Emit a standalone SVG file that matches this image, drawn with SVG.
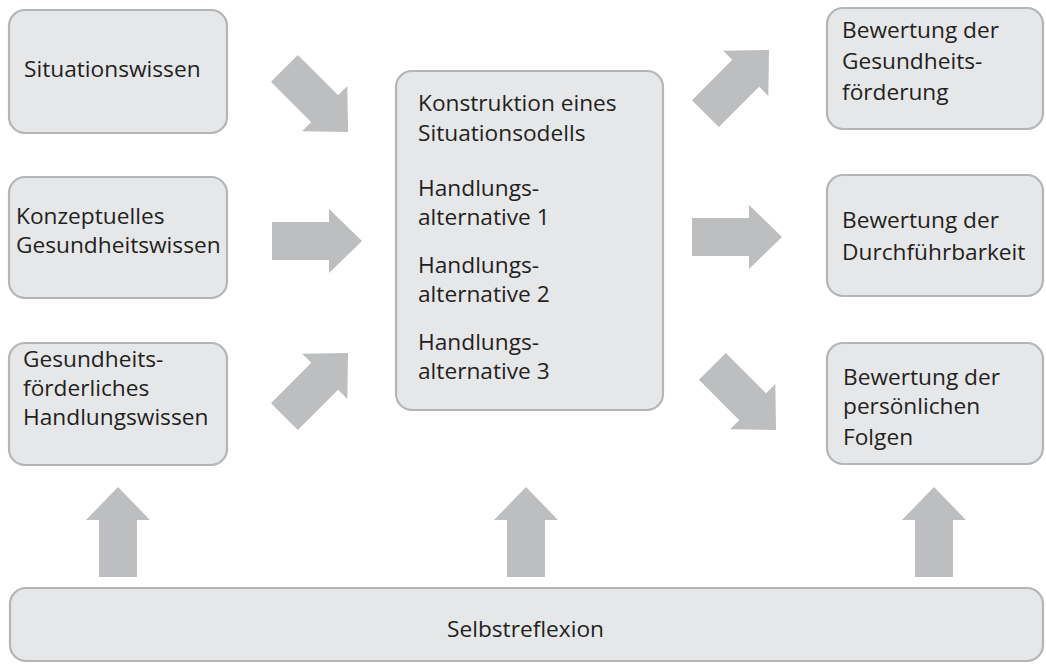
<svg xmlns="http://www.w3.org/2000/svg" width="1046" height="667" viewBox="0 0 1046 667">
<defs>
<style>
.box{fill:#E6E7E8;stroke:#B3B5B7;stroke-width:2.2}
.t{font-family:"Open Sans","Noto Sans",sans-serif;font-size:22.7px;fill:#231F20}
.arr{fill:#BCBEC0}
</style>
<path id="ar" d="M0,-19 H57 V-32 L90,0 L57,32 V19 H0 Z"/>
</defs>
<rect width="1046" height="667" fill="#FFFFFF"/>
<g id="n-situationswissen">
<rect class="box" x="9" y="10" width="218" height="123" rx="16"/>
<text class="t" x="24" y="77">Situationswissen</text>
</g>
<g id="n-konzeptuelles">
<rect class="box" x="9" y="177" width="218" height="121" rx="16"/>
<text class="t" x="16" y="224">Konzeptuelles<tspan x="16" dy="29">Gesundheitswissen</tspan></text>
</g>
<g id="n-handlungswissen">
<rect class="box" x="9" y="343" width="218" height="122" rx="16"/>
<text class="t" x="23" y="367">Gesundheits-<tspan x="23" dy="29">förderliches</tspan><tspan x="23" dy="29">Handlungswissen</tspan></text>
</g>
<g id="n-konstruktion">
<rect class="box" x="396" y="71" width="267" height="339" rx="16"/>
<text class="t" x="418" y="111">Konstruktion eines<tspan x="418" dy="30">Situationsodells</tspan></text>
<text class="t" x="418" y="196">Handlungs-<tspan x="418" dy="29">alternative 1</tspan></text>
<text class="t" x="418" y="273">Handlungs-<tspan x="418" dy="29">alternative 2</tspan></text>
<text class="t" x="418" y="350">Handlungs-<tspan x="418" dy="29">alternative 3</tspan></text>
</g>
<g id="n-gesundheitsfoerderung">
<rect class="box" x="827" y="8" width="216" height="121" rx="16"/>
<text class="t" x="842" y="38">Bewertung der<tspan x="842" dy="31">Gesundheits-</tspan><tspan x="842" dy="31">förderung</tspan></text>
</g>
<g id="n-durchfuehrbarkeit">
<rect class="box" x="827" y="175" width="216" height="121" rx="16"/>
<text class="t" x="842" y="228">Bewertung der<tspan x="842" dy="32">Durchführbarkeit</tspan></text>
</g>
<g id="n-folgen">
<rect class="box" x="827" y="343" width="216" height="121" rx="16"/>
<text class="t" x="843" y="385">Bewertung der<tspan x="843" dy="29">persönlichen</tspan><tspan x="843" dy="31">Folgen</tspan></text>
</g>
<g id="n-selbstreflexion">
<rect class="box" x="10" y="588" width="1033" height="73" rx="16"/>
<text class="t" x="447" y="637">Selbstreflexion</text>
</g>
<g id="connectors" class="arr">
<use href="#ar" transform="translate(284.4,68.4) rotate(45)"/>
<use href="#ar" transform="translate(272,241)"/>
<use href="#ar" transform="translate(284.4,416.6) rotate(-45)"/>
<use href="#ar" transform="translate(705.4,113.6) rotate(-45)"/>
<use href="#ar" transform="translate(692,237)"/>
<use href="#ar" transform="translate(712.4,366.4) rotate(45)"/>
<use href="#ar" transform="translate(118,577) rotate(-90)"/>
<use href="#ar" transform="translate(526,577) rotate(-90)"/>
<use href="#ar" transform="translate(934,577) rotate(-90)"/>
</g>
</svg>
